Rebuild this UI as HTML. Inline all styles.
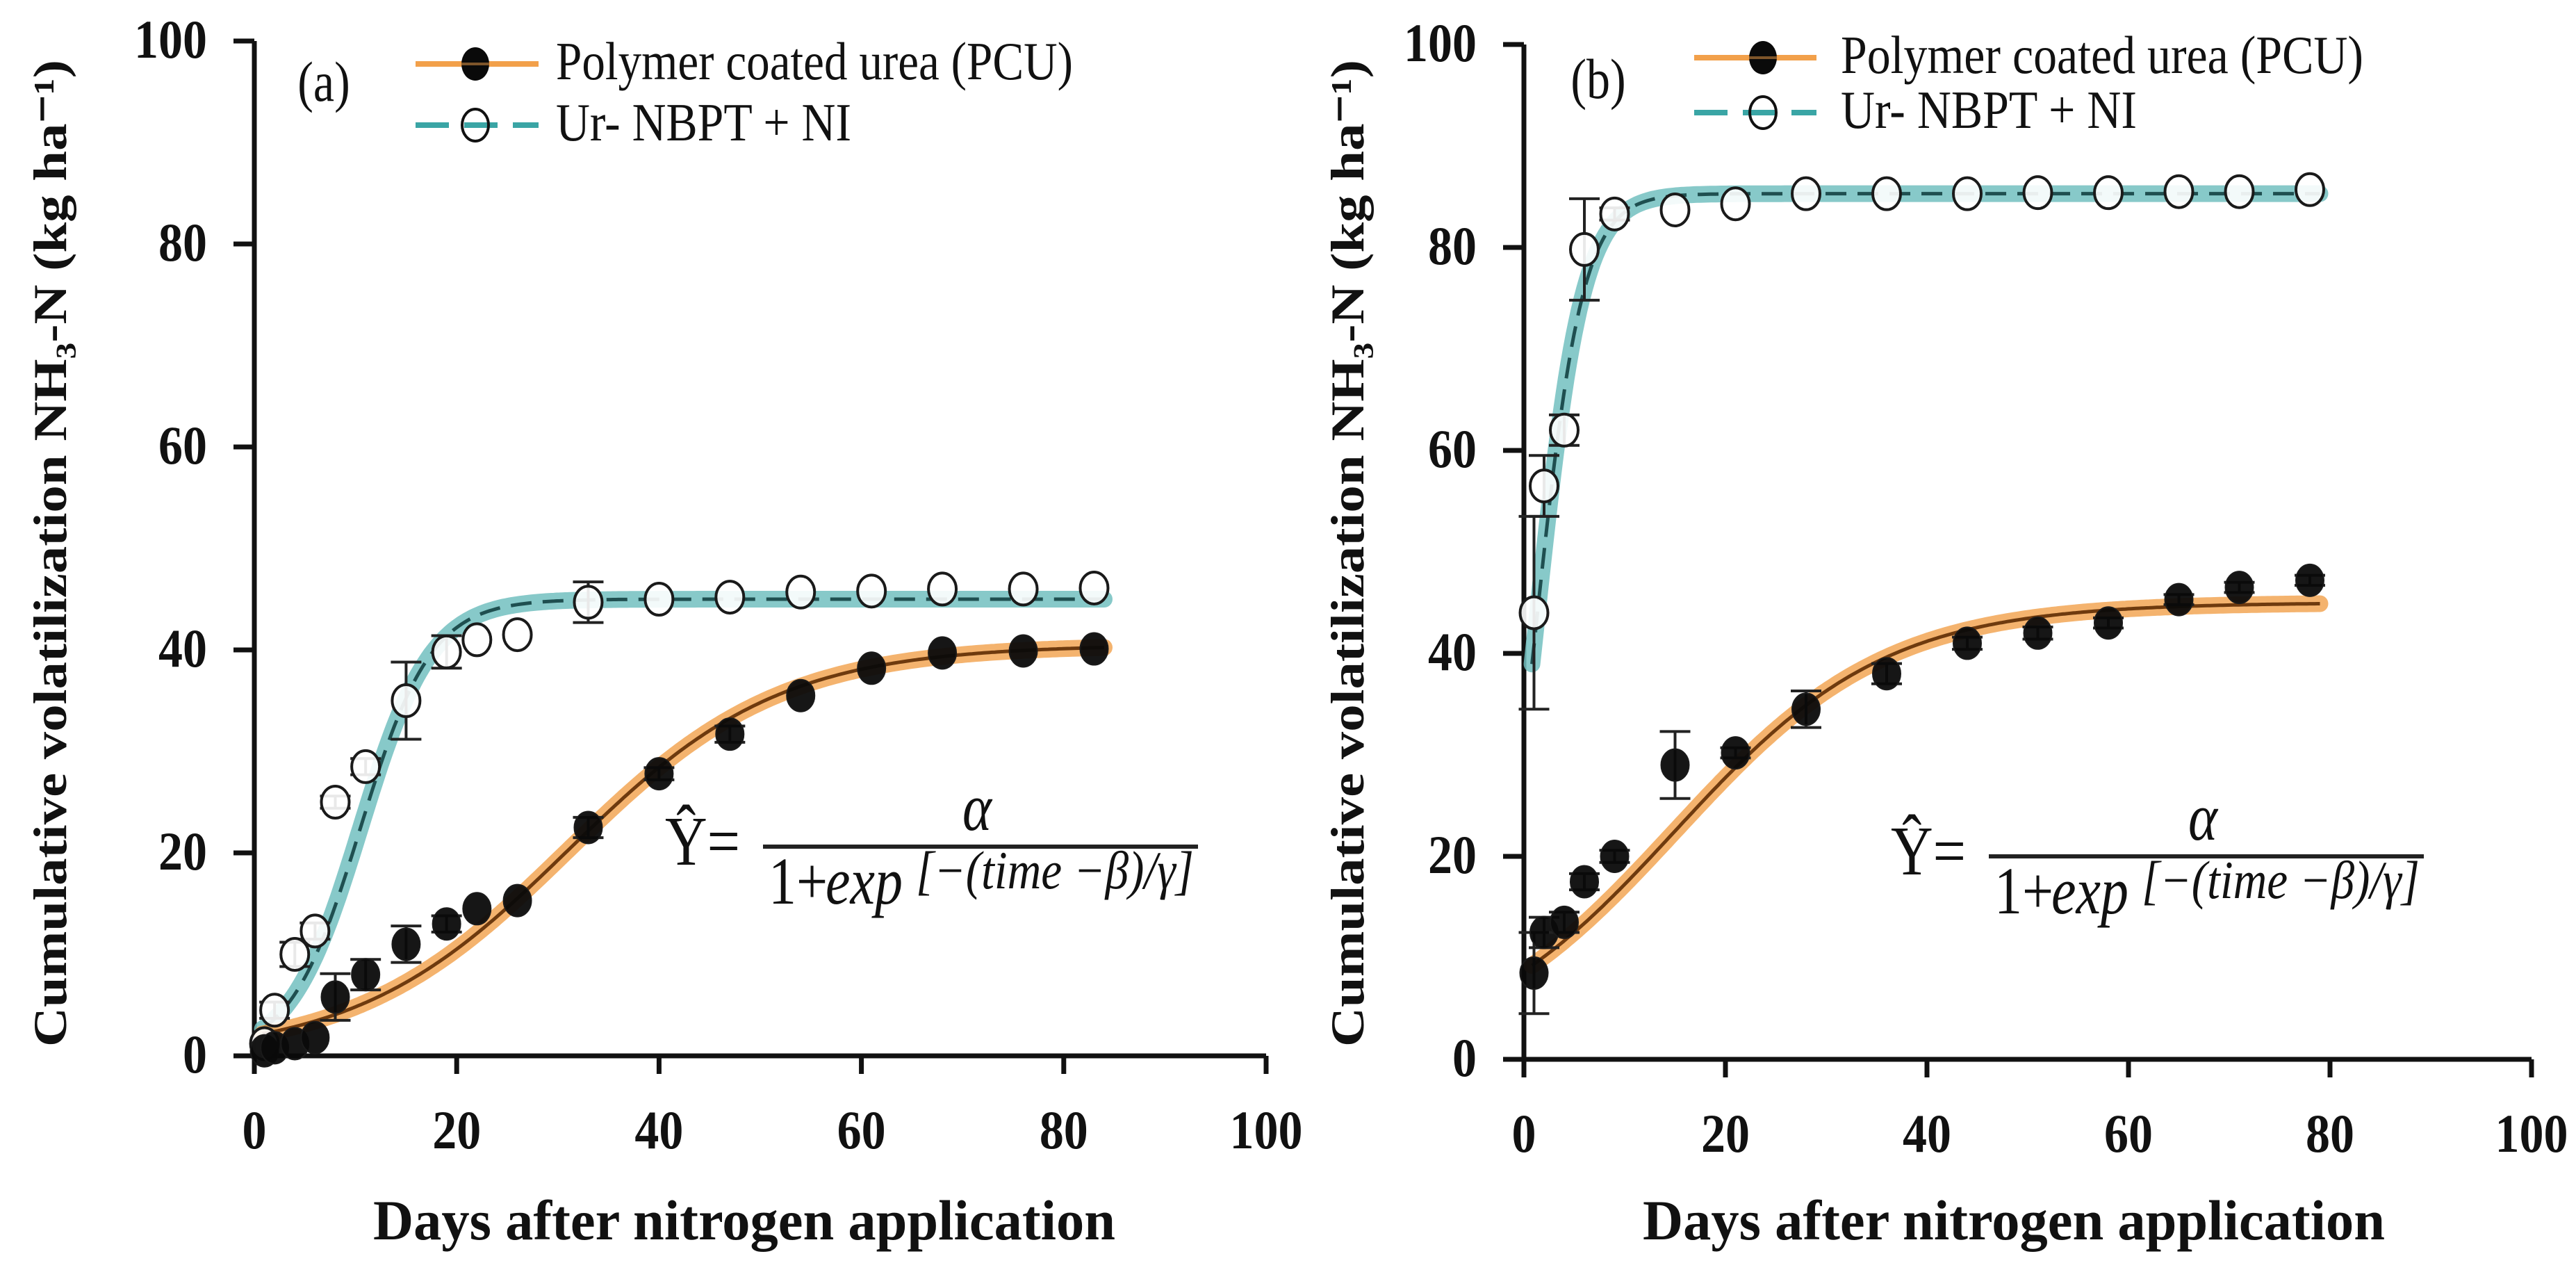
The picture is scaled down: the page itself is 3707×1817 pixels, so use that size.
<!DOCTYPE html>
<html><head><meta charset="utf-8"><style>
html,body{margin:0;padding:0;background:#fff;}
svg{display:block;font-family:"Liberation Serif",serif;}
</style></head><body>
<svg id="chart" width="3707" height="1817" viewBox="0 0 3707 1817" xmlns="http://www.w3.org/2000/svg"></svg>
<script>
// ---- Panel (a) data ----
const aPcuDays = [1,2,4,6,8,11,15,19,22,26,33,40,47,54,61,68,76,83];
const aPcuVals = [0.5,0.8,1.2,1.8,5.8,8,11,13,14.5,15.3,22.5,27.8,31.7,35.5,38.2,39.7,39.9,40.1];
const aPcuErr  = [0,0,0,0,2.3,1.5,1.8,0.8,0,0,1,0.6,0.8,0,0,0,0,0];
const aUrDays  = [1,2,4,6,8,11,15,19,22,26,33,40,47,54,61,68,76,83];
const aUrVals  = [1.2,4.5,10,12.3,25,28.5,35,39.8,41,41.5,44.7,45,45.2,45.7,45.8,46,46,46.1];
const aUrErr   = [0,0.8,1.2,0.8,0.6,0.8,3.8,1.6,0,0,2,0,0,0,0,0,0,0];
const aPcuFit  = [40.5, 31, 10.5];   // alpha, beta, gamma
const aUrFit   = [45, 10.5, 3.5];
// ---- Panel (b) data ----
const bPcuDays = [1,2,4,6,9,15,21,28,36,44,51,58,65,71,78];
const bPcuVals = [8.5,12.5,13.5,17.5,20,29,30.2,34.5,38,41,42,43,45.3,46.5,47.2];
const bPcuErr  = [4,1.5,1,0.8,0.6,3.3,0.5,1.8,1,0.6,0.6,0.5,0.5,0.5,0.5];
const bUrDays  = [1,2,4,6,9,15,21,28,36,44,51,58,65,71,78];
const bUrVals  = [44,56.5,62,79.8,83.3,83.7,84.3,85.3,85.3,85.3,85.4,85.4,85.5,85.5,85.7];
const bUrErr   = [9.5,3,1.5,5,0.6,0,0,0,0,0,0,0,0,0,0];
const bPcuFit  = [45, 15, 10.5];
const bUrFit   = [85.3, 1.2, 2.3];
const xTicks = [0,20,40,60,80,100];
const yTicks = [0,20,40,60,80,100];

const NS = "http://www.w3.org/2000/svg";
const svg = document.getElementById('chart');
function mk(tag, attrs, parent){
  const e = document.createElementNS(NS, tag);
  for (const k in attrs) e.setAttribute(k, attrs[k]);
  (parent||svg).appendChild(e);
  return e;
}
function txt(parent, x, y, s, size, opts){
  opts = opts||{};
  const t = document.createElementNS(NS,'text');
  t.setAttribute('transform', `translate(${x},${y}) ${opts.rot?'rotate(-90)':''} scale(${opts.sx||1},${opts.sy||1.2})`);
  t.setAttribute('font-size', size);
  t.setAttribute('text-anchor', opts.anchor||'middle');
  if (opts.bold) t.setAttribute('font-weight','bold');
  if (opts.italic) t.setAttribute('font-style','italic');
  if (opts.len){ t.setAttribute('textLength', opts.len); t.setAttribute('lengthAdjust','spacingAndGlyphs'); }
  t.setAttribute('fill','#111');
  t.textContent = s;
  parent.appendChild(t);
  return t;
}

function panel(cfg){
  const g = mk('g', {});
  
  
  const X = d => cfg.x0 + (d/100)*(cfg.x1-cfg.x0);
  const Y = v => cfg.y0 - (v/100)*(cfg.y0-cfg.y1);

  const axes = mk('g', {stroke:'#111','stroke-width':7,fill:'none'}, g);
  
  
  mk('line',{x1:cfg.x0,y1:Y(0),x2:X(100),y2:Y(0)},axes);
  mk('line',{x1:cfg.x0,y1:Y(0),x2:cfg.x0,y2:Y(100)},axes);
  xTicks.forEach(t=>{
    mk('line',{x1:X(t),y1:Y(0),x2:X(t),y2:Y(0)+26},axes);
    const l = txt(g, X(t), Y(0)+133, String(t), 70, {bold:true, sy:1.12});
    
    
  });
  yTicks.forEach(t=>{
    mk('line',{x1:cfg.x0-30,y1:Y(t),x2:cfg.x0,y2:Y(t)},axes);
    const l = txt(g, cfg.x0-68, Y(t)+24, String(t), 70, {bold:true, anchor:'end', sy:1.12});
    
    
  });

  function curve(fit, xmax, band, line, dash, nm){
    let d='';
    for (let i=0;i<=300;i++){
      const t = 0.8 + (xmax-0.8)*i/300;
      const v = fit[0]/(1+Math.exp(-(t-fit[1])/fit[2]));
      d += (i?'L':'M')+X(t).toFixed(1)+','+Y(v).toFixed(1);
    }
    const b = mk('path',{d:d,stroke:band,'stroke-width':24,fill:'none','stroke-linecap':'round',opacity:0.85},g);
    
    
    const l = mk('path',{d:d,stroke:line,'stroke-width':5,fill:'none','stroke-dasharray':dash||'none'},g);
    
    
  }
  curve(cfg.urFit, cfg.urDays[cfg.urDays.length-1]+1, '#72bfbf', '#1f4f50', '30,16', 'ur');
  curve(cfg.pcuFit, cfg.pcuDays[cfg.pcuDays.length-1]+1, '#f2a655', '#6e3a0e', null, 'pcu');

  function points(days, vals, errs, filled, nm){
    days.forEach((d,i)=>{
      const cx = X(d), cy = Y(vals[i]);
      if (errs[i]>0){
        const e = mk('path',{d:`M${cx},${Y(vals[i]-errs[i])}L${cx},${Y(vals[i]+errs[i])}M${cx-22},${Y(vals[i]-errs[i])}L${cx+22},${Y(vals[i]-errs[i])}M${cx-22},${Y(vals[i]+errs[i])}L${cx+22},${Y(vals[i]+errs[i])}`,stroke:'#222','stroke-width':4,fill:'none'},g);
        
        
      }
      const p = mk('ellipse',{cx:cx,cy:cy,rx:20,ry:23,fill:filled?'#0a0a0a':'#fff',stroke:'#1a1a1a','stroke-width':filled?2:4, 'fill-opacity':filled?0.95:0.9},g);
      
      
    });
  }
  points(cfg.urDays, cfg.urVals, cfg.urErr, false, 'ur');
  points(cfg.pcuDays, cfg.pcuVals, cfg.pcuErr, true, 'pcu');

  const pl = txt(g, cfg.lab[0], cfg.lab[1], cfg.label, 68, {});
  
  

  const lg = mk('g',{},g);
  
  
  const L = cfg.leg;
  const e1 = mk('g',{},lg);
  
  
  mk('line',{x1:L.x1,y1:L.y1,x2:L.x2,y2:L.y1,stroke:'#f2a04a','stroke-width':8},e1);
  mk('ellipse',{cx:L.m,cy:L.y1,rx:20,ry:24,fill:'#0a0a0a'},e1);
  mk('line',{x1:L.x1,y1:L.y1,x2:L.x2,y2:L.y1,stroke:'#f2a04a','stroke-width':4,opacity:0.5},e1);
  txt(e1, L.tx, L.y1+22, 'Polymer coated urea (PCU)', 64, {anchor:'start', len:L.l1});
  const e2 = mk('g',{},lg);
  
  
  mk('line',{x1:L.x1,y1:L.y2,x2:L.x2,y2:L.y2,stroke:'#3aa5a5','stroke-width':8,'stroke-dasharray':'48,22'},e2);
  mk('ellipse',{cx:L.m,cy:L.y2,rx:19,ry:23,fill:'none',stroke:'#111','stroke-width':4},e2);
  txt(e2, L.tx, L.y2+22, 'Ur- NBPT + NI', 64, {anchor:'start', len:L.l2});

  const f = mk('g',{},g);
  
  
  const F = cfg.form;
  txt(f, F.x+45, F.y+26, 'Ŷ=', 84, {});
  mk('line',{x1:F.x+132,y1:F.y,x2:F.x+758,y2:F.y,stroke:'#222','stroke-width':6},f);
  txt(f, F.x+440, F.y-24, 'α', 80, {italic:true});
  txt(f, F.x+140, F.y+82, '1+', 80, {anchor:'start'});
  txt(f, F.x+222, F.y+82, 'exp', 80, {anchor:'start', italic:true});
  txt(f, F.x+352, F.y+60, '[−(time −β)/γ]', 64, {anchor:'start', italic:true, len:400});

  const yt = txt(g, cfg.yt, 796, 'Cumulative volatilization NH\u2083-N (kg ha\u207B\u00B9)', 68, {bold:true, rot:true, sy:1.0, len:1420});
  
  
  const xt = txt(g, cfg.xt, 1783, 'Days after nitrogen application', 68, {bold:true, len:1068});
  
  
}

panel({name:'panel-a', label:'(a)', x0:366, x1:1822, y0:1519, y1:59,
  pcuDays:aPcuDays, pcuVals:aPcuVals, pcuErr:aPcuErr, urDays:aUrDays, urVals:aUrVals, urErr:aUrErr,
  pcuFit:aPcuFit, urFit:aUrFit, lab:[466,145],
  leg:{x1:598,x2:775,m:684,y1:92,y2:180,tx:800,l1:744,l2:425},
  form:{x:966,y:1218}, yt:95, xt:1071});
panel({name:'panel-b', label:'(b)', x0:2193, x1:3643, y0:1524, y1:64,
  pcuDays:bPcuDays, pcuVals:bPcuVals, pcuErr:bPcuErr, urDays:bUrDays, urVals:bUrVals, urErr:bUrErr,
  pcuFit:bPcuFit, urFit:bUrFit, lab:[2300,141],
  leg:{x1:2438,x2:2614,m:2537,y1:83,y2:162,tx:2649,l1:752,l2:426},
  form:{x:2730,y:1232}, yt:1962, xt:2898});
</script>
</body></html>
